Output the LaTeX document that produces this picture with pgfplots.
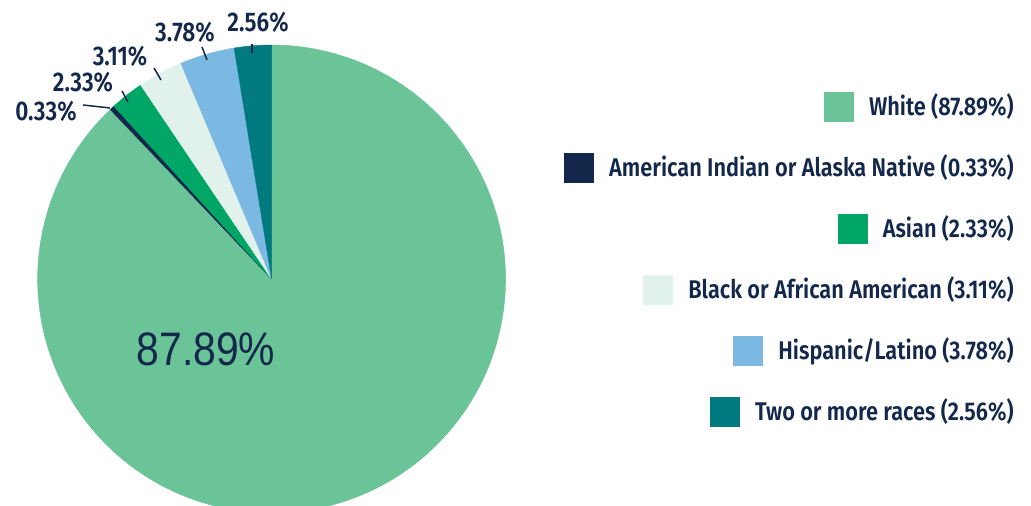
\documentclass[border=0pt]{standalone}
\usepackage{pgfplots}
\pgfplotsset{compat=1.18}
\usepackage{pgfplotstable}
\usepackage{fontspec}
\setmainfont{Fira Sans}
\newfontfamily\lblfont{Fira Sans}[UprightFont={* SemiBold}, FakeStretch=0.84]
\newfontfamily\legfont{Fira Sans}[UprightFont={* SemiBold}, FakeStretch=0.85]
\newfontfamily\bigfont{Liberation Sans}[FakeStretch=0.87]
\definecolor{cWhite}{HTML}{6BC398}
\definecolor{cAIAN}{HTML}{13274B}
\definecolor{cAsian}{HTML}{00A665}
\definecolor{cBlack}{HTML}{E1F2EC}
\definecolor{cHisp}{HTML}{7BB8E2}
\definecolor{cTwo}{HTML}{007A7E}
\definecolor{txt}{HTML}{14284B}

\pgfplotstableread{
label share
White 87.89
AIAN 0.33
Asian 2.33
Black 3.11
Hispanic 3.78
Two 2.56
}\shares

\begin{document}
\begin{tikzpicture}
\pgfplotstablegetelem{0}{share}\of\shares \pgfmathsetmacro\sA{\pgfplotsretval}
\pgfplotstablegetelem{1}{share}\of\shares \pgfmathsetmacro\sB{\pgfplotsretval}
\pgfplotstablegetelem{2}{share}\of\shares \pgfmathsetmacro\sC{\pgfplotsretval}
\pgfplotstablegetelem{3}{share}\of\shares \pgfmathsetmacro\sD{\pgfplotsretval}
\pgfplotstablegetelem{4}{share}\of\shares \pgfmathsetmacro\sE{\pgfplotsretval}
\pgfplotstablegetelem{5}{share}\of\shares \pgfmathsetmacro\sF{\pgfplotsretval}
\pgfmathsetmacro\aZ{90}
\pgfmathsetmacro\aA{\aZ-3.6*\sA}
\pgfmathsetmacro\aB{\aA-3.6*\sB}
\pgfmathsetmacro\aC{\aB-3.6*\sC}
\pgfmathsetmacro\aD{\aC-3.6*\sD}
\pgfmathsetmacro\aE{\aD-3.6*\sE}
\pgfmathsetmacro\aF{\aE-3.6*\sF}
\begin{axis}[
  hide axis, scale only axis,
  width=515.5pt, height=253pt,
  xmin=0, xmax=1031, ymin=0, ymax=506,
  y dir=reverse, clip=true,
]
\addplot[draw=cWhite, line width=0.2pt, fill=cWhite, domain=\aA:\aZ, samples=180] ({271.6+234*cos(x)}, {279-234*sin(x)}) -- (axis cs:271.6,279) -- cycle;
\addplot[draw=cAIAN, line width=0.2pt, fill=cAIAN, domain=\aB:\aA, samples=5] ({271.6+234*cos(x)}, {279-234*sin(x)}) -- (axis cs:271.6,279) -- cycle;
\addplot[draw=cAsian, line width=0.2pt, fill=cAsian, domain=\aC:\aB, samples=10] ({271.6+234*cos(x)}, {279-234*sin(x)}) -- (axis cs:271.6,279) -- cycle;
\addplot[draw=cBlack, line width=0.2pt, fill=cBlack, domain=\aD:\aC, samples=12] ({271.6+234*cos(x)}, {279-234*sin(x)}) -- (axis cs:271.6,279) -- cycle;
\addplot[draw=cHisp, line width=0.2pt, fill=cHisp, domain=\aE:\aD, samples=14] ({271.6+234*cos(x)}, {279-234*sin(x)}) -- (axis cs:271.6,279) -- cycle;
\addplot[draw=cTwo, line width=0.2pt, fill=cTwo, domain=\aF:\aE, samples=10] ({271.6+234*cos(x)}, {279-234*sin(x)}) -- (axis cs:271.6,279) -- cycle;
% leader lines
\addplot[txt, line width=0.75pt] coordinates {(252,44) (252,53)};
\addplot[txt, line width=0.75pt] coordinates {(202,47) (207,60)};
\addplot[txt, line width=0.75pt] coordinates {(154,68) (161,80)};
\addplot[txt, line width=0.75pt] coordinates {(122,91) (128,102)};
\addplot[txt, line width=0.75pt] coordinates {(83,105) (110,108)};
% slice labels
\begin{scope}[every node/.style={text=txt, inner sep=0pt, font=\lblfont\fontsize{13.5}{15}\selectfont}]
\node[anchor=base] at (axis cs:258,32) {2.56\%};
\node[anchor=base] at (axis cs:185,42) {3.78\%};
\node[anchor=base] at (axis cs:120,66) {3.11\%};
\node[anchor=base] at (axis cs:83,92) {2.33\%};
\node[anchor=base] at (axis cs:46,121) {0.33\%};
\end{scope}
\node[anchor=base, text=txt, inner sep=0pt, font=\bigfont\fontsize{23.5}{26}\selectfont] at (axis cs:206,366) {87.89\%};
% legend
\begin{scope}[every node/.style={text=txt, inner sep=0pt, anchor=base east, font=\legfont\fontsize{12.8}{14}\selectfont}]
\node at (axis cs:1014,115.5) {\textcolor{cWhite}{\raisebox{-3.5pt}{\rule{15pt}{15pt}}}\hspace{7.5pt}White (87.89\%)};
\node at (axis cs:1014,176.5) {\textcolor{cAIAN}{\raisebox{-3.5pt}{\rule{15pt}{15pt}}}\hspace{7.5pt}American Indian or Alaska Native (0.33\%)};
\node at (axis cs:1014,237.5) {\textcolor{cAsian}{\raisebox{-3.5pt}{\rule{15pt}{15pt}}}\hspace{7.5pt}Asian (2.33\%)};
\node at (axis cs:1014,298.5) {\textcolor{cBlack}{\raisebox{-3.5pt}{\rule{15pt}{15pt}}}\hspace{7.5pt}Black or African American (3.11\%)};
\node at (axis cs:1014,359.5) {\textcolor{cHisp}{\raisebox{-3.5pt}{\rule{15pt}{15pt}}}\hspace{7.5pt}Hispanic/Latino (3.78\%)};
\node at (axis cs:1014,420.5) {\textcolor{cTwo}{\raisebox{-3.5pt}{\rule{15pt}{15pt}}}\hspace{7.5pt}Two or more races (2.56\%)};
\end{scope}
\end{axis}
\pgfresetboundingbox
\path[use as bounding box] (current axis.south west) rectangle (current axis.north east);
\end{tikzpicture}
\end{document}
